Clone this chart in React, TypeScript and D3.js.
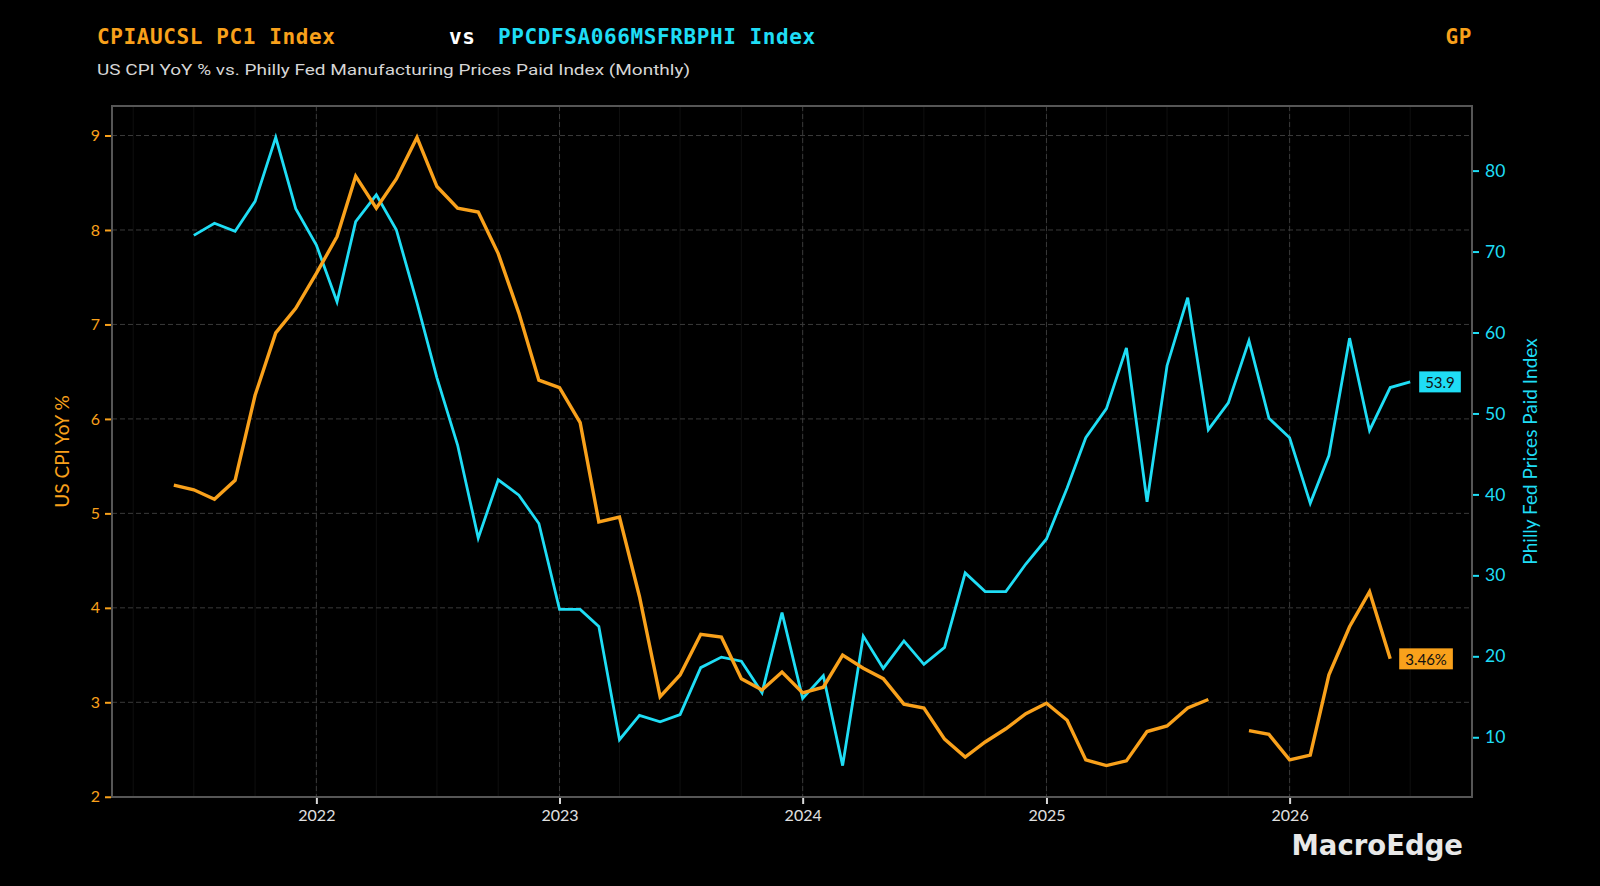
import * as d3 from "d3";
import { useEffect, useRef } from "react";

// US CPI YoY % (left axis), monthly from Jun 2021, null = missing month
const cpiStart = new Date(2021, 5, 1);
const cpiValues: (number | null)[] = [
  5.30, 5.25, 5.15, 5.35, 6.25, 6.91, 7.17,
  7.54, 7.93, 8.57, 8.23, 8.54, 8.98, 8.46, 8.23, 8.19, 7.75, 7.12, 6.41,
  6.33, 5.96, 4.91, 4.96, 4.12, 3.06, 3.29, 3.72, 3.69, 3.25, 3.13, 3.32,
  3.10, 3.16, 3.50, 3.36, 3.25, 2.98, 2.94, 2.61, 2.42, 2.58, 2.72, 2.88,
  2.99, 2.81, 2.39, 2.33, 2.38, 2.69, 2.75, 2.94, 3.03, null, 2.70, 2.66,
  2.39, 2.44, 3.29, 3.80, 4.17, 3.46,
];

// Philly Fed Manufacturing Prices Paid (right axis), monthly from Jul 2021
const ppiStart = new Date(2021, 6, 1);
const ppiValues: number[] = [
  72.0, 73.5, 72.5, 76.2, 84.1, 75.3,
  70.8, 63.8, 73.7, 77.0, 72.7, 63.7, 54.4, 46.1, 34.6, 41.8, 39.9, 36.4,
  25.8, 25.8, 23.7, 9.7, 12.7, 11.9, 12.8, 18.6, 19.9, 19.4, 15.5, 25.4,
  14.8, 17.6, 6.5, 22.5, 18.5, 21.9, 19.0, 21.1, 30.3, 28.0, 28.0, 31.4,
  34.5, 40.8, 47.0, 50.6, 58.1, 39.1, 55.9, 64.3, 48.0, 51.3, 59.0, 49.4,
  47.0, 38.9, 44.8, 59.3, 47.9, 53.2, 53.9,
];

const leftTicks = [2, 3, 4, 5, 6, 7, 8, 9];
const rightTicks = [10, 20, 30, 40, 50, 60, 70, 80];
const yearTicks = [2022, 2023, 2024, 2025, 2026];

const titleLeft = "CPIAUCSL PC1 Index";
const titleRight = "PPCDFSA066MSFRBPHI Index";
const subtitle = "US CPI YoY % vs. Philly Fed Manufacturing Prices Paid Index (Monthly)";

const ORANGE = "#F9A11B";
const CYAN = "#1FDDF5";

type Pt = { date: Date; v: number | null };

export default function App() {
  const svgRef = useRef<SVGSVGElement | null>(null);

  useEffect(() => {
    const width = 1600;
    const height = 886;
    const L = 112, R = 1472, T = 106, B = 797;

    const svg = d3.select(svgRef.current).attr("width", width).attr("height", height);
    svg.selectAll("*").remove();

    const cpi: Pt[] = cpiValues.map((v, i) => ({ date: d3.timeMonth.offset(cpiStart, i), v }));
    const ppi: Pt[] = ppiValues.map((v, i) => ({ date: d3.timeMonth.offset(ppiStart, i), v }));

    // matplotlib style 5% margins
    const pad = (lo: number, hi: number): [number, number] => {
      const r = hi - lo;
      return [lo - r * 0.05, hi + r * 0.05];
    };
    const allDates = [...cpi, ...ppi].map(d => +d.date);
    const [x0, x1] = pad(d3.min(allDates)!, d3.max(allDates)!);
    const x = d3.scaleTime().domain([new Date(x0), new Date(x1)]).range([L, R]);

    const cpiNums = cpiValues.filter((v): v is number => v != null);
    const yL = d3.scaleLinear().domain(pad(d3.min(cpiNums)!, d3.max(cpiNums)!)).range([B, T]);
    const yR = d3.scaleLinear().domain(pad(d3.min(ppiValues)!, d3.max(ppiValues)!)).range([B, T]);

    svg.append("rect").attr("width", width).attr("height", height).attr("fill", "#000");

    // faint quarterly minor grid
    svg.append("g")
      .selectAll("line")
      .data(d3.timeMonth.every(3)!.range(new Date(x0), new Date(x1)))
      .join("line")
      .attr("x1", d => x(d)).attr("x2", d => x(d))
      .attr("y1", T).attr("y2", B)
      .attr("stroke", "#0f0f0f").attr("stroke-width", 1);

    // dashed major grid
    svg.append("g")
      .selectAll("line")
      .data(leftTicks)
      .join("line")
      .attr("x1", L).attr("x2", R)
      .attr("y1", d => yL(d)).attr("y2", d => yL(d))
      .attr("stroke", "#3a3a3a").attr("stroke-width", 1).attr("stroke-dasharray", "5,3");

    svg.append("g")
      .selectAll("line")
      .data(yearTicks)
      .join("line")
      .attr("x1", d => x(new Date(d, 0, 1))).attr("x2", d => x(new Date(d, 0, 1)))
      .attr("y1", T).attr("y2", B)
      .attr("stroke", "#3a3a3a").attr("stroke-width", 1).attr("stroke-dasharray", "5,3");

    const lineL = d3.line<Pt>().defined(d => d.v != null).x(d => x(d.date)).y(d => yL(d.v as number));
    const lineR = d3.line<Pt>().defined(d => d.v != null).x(d => x(d.date)).y(d => yR(d.v as number));

    svg.append("path").datum(ppi).attr("d", lineR)
      .attr("fill", "none").attr("stroke", CYAN).attr("stroke-width", 2.8).attr("stroke-linejoin", "miter");
    svg.append("path").datum(cpi).attr("d", lineL)
      .attr("fill", "none").attr("stroke", ORANGE).attr("stroke-width", 3.4).attr("stroke-linejoin", "miter");

    // frame
    svg.append("rect")
      .attr("x", L).attr("y", T).attr("width", R - L).attr("height", B - T)
      .attr("fill", "none").attr("stroke", "#565656").attr("stroke-width", 2);

    const tickFont = "Lato, 'DejaVu Sans', sans-serif";

    const gl = svg.append("g").attr("transform", `translate(${L - 1},0)`)
      .call(d3.axisLeft(yL).tickValues(leftTicks).tickSize(6).tickPadding(5).tickFormat(d3.format("d")));
    gl.select(".domain").remove();
    gl.selectAll(".tick line").attr("stroke", ORANGE).attr("stroke-width", 2);
    gl.selectAll(".tick text").attr("fill", ORANGE).style("font-family", tickFont).style("font-size", "16px");

    const gr = svg.append("g").attr("transform", `translate(${R + 1},0)`)
      .call(d3.axisRight(yR).tickValues(rightTicks).tickSize(6).tickPadding(6).tickFormat(d3.format("d")));
    gr.select(".domain").remove();
    gr.selectAll(".tick line").attr("stroke", CYAN).attr("stroke-width", 2);
    gr.selectAll(".tick text").attr("fill", CYAN).style("font-family", tickFont).style("font-size", "17.5px");

    const gb = svg.append("g").attr("transform", `translate(0,${B + 1})`)
      .call(d3.axisBottom(x).tickValues(yearTicks.map(y => new Date(y, 0, 1)))
        .tickSize(6).tickPadding(6).tickFormat(d => d3.timeFormat("%Y")(d as Date)));
    gb.select(".domain").remove();
    gb.selectAll(".tick line").attr("stroke", "#d8d8d8").attr("stroke-width", 2);
    gb.selectAll(".tick text").attr("fill", "#e0e0e0").style("font-family", tickFont).style("font-size", "16px");

    // axis titles
    svg.append("text")
      .attr("transform", `translate(64,${(T + B) / 2}) rotate(-90)`)
      .attr("text-anchor", "middle").attr("dominant-baseline", "middle")
      .attr("fill", ORANGE).style("font-family", tickFont).style("font-size", "19px")
      .text("US CPI YoY %");
    svg.append("text")
      .attr("transform", `translate(1532,${(T + B) / 2}) rotate(-90)`)
      .attr("text-anchor", "middle").attr("dominant-baseline", "middle")
      .attr("fill", CYAN).style("font-family", tickFont).style("font-size", "19px")
      .text("Philly Fed Prices Paid Index");

    // header
    const mono = "'DejaVu Sans Mono', monospace";
    const header = (tx: number, s: string, fill: string, anchor = "start") =>
      svg.append("text").attr("x", tx).attr("y", 44).attr("text-anchor", anchor)
        .attr("fill", fill).style("font-family", mono).style("font-weight", "bold")
        .style("font-size", "21px").style("letter-spacing", "0.6px").text(s);
    header(97, titleLeft, ORANGE);
    header(449, "vs", "#ffffff");
    header(498, titleRight, CYAN);
    header(1472, "GP", ORANGE, "end");

    svg.append("text").attr("x", 97).attr("y", 75)
      .attr("fill", "#d6d6d6").style("font-family", "Roboto, sans-serif").style("font-size", "15.5px")
      .attr("textLength", 593).attr("lengthAdjust", "spacingAndGlyphs")
      .text(subtitle);

    // last-value tags
    const tag = (p: Pt, y: number, label: string, fill: string) => {
      const g = svg.append("g");
      const t = g.append("text")
        .attr("x", x(p.date) + 9 + 6).attr("y", y)
        .attr("dominant-baseline", "central")
        .attr("fill", "#111").style("font-family", tickFont).style("font-size", "15px")
        .text(label);
      const w = (t.node() as SVGTextElement).getComputedTextLength();
      g.insert("rect", "text")
        .attr("x", x(p.date) + 9).attr("y", y - 10.5)
        .attr("width", w + 12).attr("height", 21)
        .attr("fill", fill);
    };
    const lastCpi = cpi[cpi.length - 1];
    const lastPpi = ppi[ppi.length - 1];
    tag(lastPpi, yR(lastPpi.v as number), d3.format(".1f")(lastPpi.v as number), CYAN);
    tag(lastCpi, yL(lastCpi.v as number), d3.format(".2f")(lastCpi.v as number) + "%", ORANGE);

    // watermark
    svg.append("text").attr("x", 1463).attr("y", 855).attr("text-anchor", "end")
      .attr("fill", "#e8e8e8").style("font-family", "'DejaVu Sans', sans-serif")
      .style("font-weight", "bold").style("font-size", "27.5px")
      .text("MacroEdge");
  }, []);

  return (
    <div style={{ width: 1600, height: 886, background: "#000" }}>
      <style>{"body{margin:0;background:#000;}"}</style>
      <svg ref={svgRef} style={{ display: "block" }}></svg>
    </div>
  );
}
